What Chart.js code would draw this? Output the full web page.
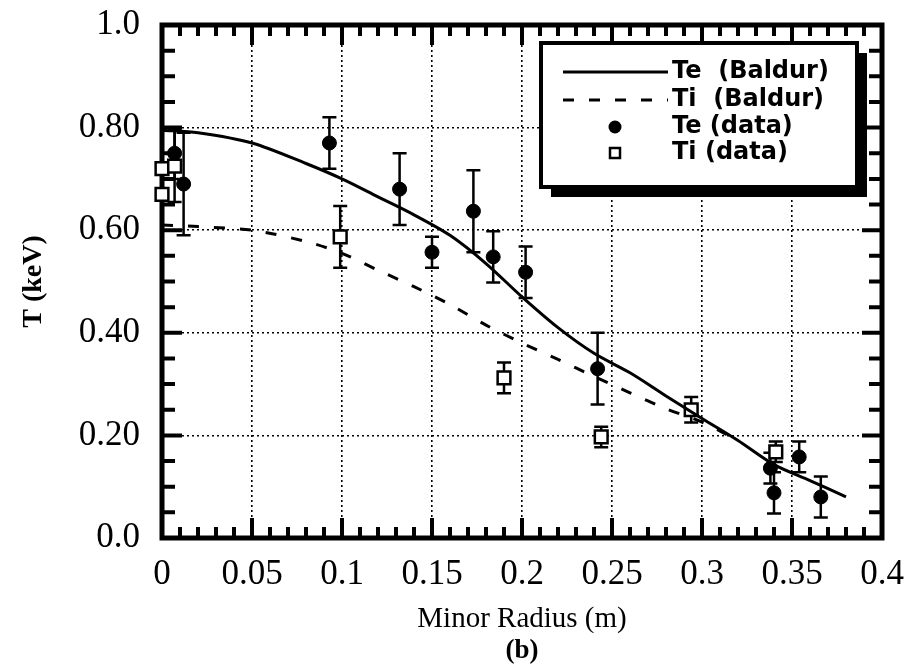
<!DOCTYPE html>
<html>
<head>
<meta charset="utf-8">
<script src="https://cdn.jsdelivr.net/npm/chart.js@4.4.0/dist/chart.umd.min.js"></script>
<style>
  html, body { margin: 0; padding: 0; background: #fff; }
  #wrap { width: 910px; height: 669px; }
</style>
</head>
<body>
<div id="wrap"><canvas id="tempChart"></canvas></div>
<script>
// Baldur model curves (minor radius in m, temperature in keV)
const teModelR = [0, 0.02, 0.05, 0.08, 0.10, 0.12, 0.14, 0.16, 0.18, 0.20, 0.22, 0.24, 0.26, 0.28, 0.30, 0.32, 0.34, 0.36, 0.38];
const teModelT = [0.795, 0.79, 0.77, 0.73, 0.70, 0.665, 0.63, 0.59, 0.535, 0.47, 0.41, 0.36, 0.322, 0.277, 0.233, 0.19, 0.143, 0.112, 0.08];
const tiModelR = [0, 0.02, 0.05, 0.08, 0.10, 0.12, 0.14, 0.16, 0.18, 0.20, 0.22, 0.24, 0.26, 0.28, 0.30, 0.32];
const tiModelT = [0.61, 0.607, 0.60, 0.578, 0.555, 0.522, 0.49, 0.455, 0.415, 0.38, 0.348, 0.315, 0.283, 0.252, 0.226, 0.19];

// measured points with error bars
const teDataR = [0.007, 0.012, 0.093, 0.132, 0.150, 0.173, 0.184, 0.202, 0.242, 0.338, 0.340, 0.354, 0.366];
const teDataT = [0.75, 0.69, 0.77, 0.68, 0.557, 0.637, 0.548, 0.518, 0.33, 0.136, 0.088, 0.158, 0.08];
const teDataErr = [0.05, 0.10, 0.05, 0.07, 0.03, 0.08, 0.05, 0.05, 0.07, 0.03, 0.04, 0.03, 0.04];
const tiDataR = [0.0, 0.0, 0.007, 0.099, 0.190, 0.244, 0.294, 0.341];
const tiDataT = [0.72, 0.67, 0.725, 0.587, 0.312, 0.197, 0.25, 0.168];
const tiDataErr = [0, 0, 0.07, 0.06, 0.03, 0.02, 0.025, 0.02];

// tick labels
const xTickLabels = ['0', '0.05', '0.1', '0.15', '0.2', '0.25', '0.3', '0.35', '0.4'];
const yTickLabels = ['0.0', '0.20', '0.40', '0.60', '0.80', '1.0'];

const toPoints = (xs, ys) => xs.map((x, i) => ({ x: x, y: ys[i] }));

// draws the heavy frame with inward ticks on all four sides
const framePlugin = {
  id: 'frame',
  beforeDatasetsDraw(chart) {
    const { ctx, chartArea: a, scales: { x, y } } = chart;
    ctx.save();
    ctx.strokeStyle = '#000';
    ctx.lineWidth = 5;
    ctx.strokeRect(a.left, a.top, a.right - a.left, a.bottom - a.top);
    ctx.lineWidth = 4;
    ctx.beginPath();
    for (let i = 1; i < 40; i++) {
      const px = x.getPixelForValue(i / 100);
      const len = i % 5 === 0 ? 20 : 11;
      ctx.moveTo(px, a.bottom); ctx.lineTo(px, a.bottom - len);
      ctx.moveTo(px, a.top); ctx.lineTo(px, a.top + len);
    }
    for (let i = 1; i < 20; i++) {
      const py = y.getPixelForValue(i / 20);
      const len = i % 4 === 0 ? 20 : 13;
      ctx.moveTo(a.left, py); ctx.lineTo(a.left + len, py);
      ctx.moveTo(a.right, py); ctx.lineTo(a.right - len, py);
    }
    ctx.stroke();
    ctx.restore();
  }
};

// vertical error bars with caps
const errorBarPlugin = {
  id: 'errorBars',
  beforeDatasetsDraw(chart) {
    const { ctx, scales: { y } } = chart;
    ctx.save();
    ctx.strokeStyle = '#000';
    ctx.lineWidth = 2.5;
    chart.data.datasets.forEach((ds, i) => {
      if (!ds.errors) return;
      const meta = chart.getDatasetMeta(i);
      meta.data.forEach((pt, j) => {
        const err = ds.errors[j];
        if (!err) return;
        const top = y.getPixelForValue(ds.data[j].y + err);
        const bot = y.getPixelForValue(ds.data[j].y - err);
        ctx.beginPath();
        ctx.moveTo(pt.x, top); ctx.lineTo(pt.x, bot);
        ctx.moveTo(pt.x - 7, top); ctx.lineTo(pt.x + 7, top);
        ctx.moveTo(pt.x - 7, bot); ctx.lineTo(pt.x + 7, bot);
        ctx.stroke();
      });
    });
    ctx.restore();
  }
};

// boxed legend with drop shadow in the upper right, plus the "(b)" panel tag
const legendBoxPlugin = {
  id: 'legendBox',
  afterDatasetsDraw(chart) {
    const ctx = chart.ctx;
    const a = chart.chartArea;
    const bx = 541, by = 43, bw = 316, bh = 144, sh = 10;
    ctx.save();
    ctx.fillStyle = '#000';
    ctx.fillRect(bx + sh, by + sh, bw, bh);
    ctx.fillStyle = '#fff';
    ctx.fillRect(bx, by, bw, bh);
    ctx.strokeStyle = '#000';
    ctx.lineWidth = 4;
    ctx.strokeRect(bx, by, bw, bh);

    ctx.font = 'bold 24px "DejaVu Sans"';
    ctx.textBaseline = 'middle';
    ctx.textAlign = 'left';
    const rows = [72, 100, 127, 153];
    chart.data.datasets.forEach((ds, i) => {
      const ry = rows[i];
      ctx.strokeStyle = '#000';
      ctx.fillStyle = '#000';
      if (ds.showLine) {
        ctx.lineWidth = 3;
        ctx.setLineDash(ds.borderDash || []);
        ctx.beginPath();
        ctx.moveTo(563, ry); ctx.lineTo(668, ry);
        ctx.stroke();
        ctx.setLineDash([]);
      } else if (ds.pointStyle === 'circle') {
        ctx.beginPath();
        ctx.arc(615, ry, 6.5, 0, Math.PI * 2);
        ctx.fill();
      } else {
        ctx.lineWidth = 2.5;
        ctx.fillStyle = '#fff';
        ctx.fillRect(610, ry - 5, 10, 10);
        ctx.strokeRect(610, ry - 5, 10, 10);
        ctx.fillStyle = '#000';
      }
      ctx.fillText(ds.label, 672, ry);
    });

    // panel tag under the axis title
    ctx.fillStyle = '#000';
    ctx.font = 'bold 27px "Liberation Serif"';
    ctx.textAlign = 'center';
    ctx.fillText('(b)', (a.left + a.right) / 2, 651);
    ctx.restore();
  }
};

const config = {
  type: 'scatter',
  data: {
    datasets: [
      {
        label: 'Te  (Baldur)',
        data: toPoints(teModelR, teModelT),
        showLine: true,
        borderColor: '#000',
        borderWidth: 3,
        pointRadius: 0,
        tension: 0.3,
        clip: false
      },
      {
        label: 'Ti  (Baldur)',
        data: toPoints(tiModelR, tiModelT),
        showLine: true,
        borderColor: '#000',
        borderWidth: 3,
        borderDash: [11, 15],
        pointRadius: 0,
        tension: 0.3,
        clip: false
      },
      {
        label: 'Te (data)',
        data: toPoints(teDataR, teDataT),
        errors: teDataErr,
        pointStyle: 'circle',
        pointRadius: 7,
        backgroundColor: '#000',
        borderColor: '#000',
        borderWidth: 1,
        clip: false
      },
      {
        label: 'Ti (data)',
        data: toPoints(tiDataR, tiDataT),
        errors: tiDataErr,
        pointStyle: 'rect',
        pointRadius: 9,
        backgroundColor: '#fff',
        borderColor: '#000',
        borderWidth: 2.5,
        clip: false
      }
    ]
  },
  options: {
    responsive: true,
    maintainAspectRatio: false,
    animation: false,
    layout: { padding: { top: 25, right: 28, left: 0, bottom: 33 } },
    plugins: {
      legend: { display: false },
      tooltip: { enabled: false }
    },
    scales: {
      x: {
        type: 'linear',
        min: 0,
        max: 0.4,
        afterFit(scale) {
          scale.height = 98;
          scale.paddingLeft = 0;
          scale.paddingRight = 0;
        },
        afterBuildTicks(scale) {
          scale.ticks = xTickLabels.map(v => ({ value: parseFloat(v) }));
        },
        ticks: {
          padding: 16,
          color: '#000',
          maxRotation: 0,
          autoSkip: false,
          font: { family: '"Liberation Serif"', size: 35 },
          callback: (v, i) => xTickLabels[i]
        },
        grid: {
          drawTicks: false,
          color: '#000',
          lineWidth: 1.6
        },
        border: { display: false, dash: [2, 3] },
        title: {
          display: true,
          text: 'Minor Radius (m)',
          color: '#000',
          font: { family: '"Liberation Serif"', size: 29, lineHeight: 1 },
          padding: { top: 0, bottom: 2 }
        }
      },
      y: {
        type: 'linear',
        min: 0,
        max: 1.0,
        afterFit(scale) {
          scale.width = 162;
          scale.paddingTop = 0;
          scale.paddingBottom = 0;
        },
        afterBuildTicks(scale) {
          scale.ticks = yTickLabels.map(v => ({ value: parseFloat(v) }));
        },
        ticks: {
          padding: 22,
          color: '#000',
          autoSkip: false,
          font: { family: '"Liberation Serif"', size: 35 },
          callback: (v, i) => yTickLabels[i]
        },
        grid: {
          drawTicks: false,
          color: '#000',
          lineWidth: 1.6
        },
        border: { display: false, dash: [2, 3] },
        title: {
          display: true,
          text: 'T (keV)',
          color: '#000',
          font: { family: '"Liberation Serif"', size: 28, weight: 'bold' },
          padding: { top: 17, bottom: 0 }
        }
      }
    }
  },
  plugins: [framePlugin, errorBarPlugin, legendBoxPlugin]
};

new Chart(document.getElementById('tempChart'), config);
</script>
</body>
</html>
